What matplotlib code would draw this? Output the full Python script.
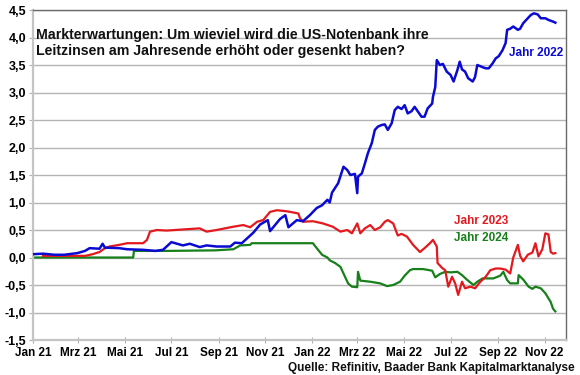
import matplotlib
matplotlib.use("Agg")
import matplotlib.pyplot as plt
import pandas as pd

# ---- data ----
dates_2022 = ["2021-01-01","2021-01-14","2021-01-29","2021-02-11","2021-02-28","2021-03-10","2021-03-16","2021-03-29",
    "2021-04-02","2021-04-05","2021-04-24","2021-05-04","2021-05-25","2021-06-10","2021-06-20","2021-07-01","2021-07-16",
    "2021-07-25","2021-08-07","2021-08-16","2021-08-29","2021-09-16","2021-09-22","2021-10-01","2021-10-16","2021-10-25",
    "2021-11-04","2021-11-07","2021-11-20","2021-11-27","2021-12-01","2021-12-12","2021-12-20","2021-12-29","2022-01-07",
    "2022-01-14","2022-01-21","2022-01-24","2022-01-27","2022-02-04","2022-02-11","2022-02-16","2022-02-20","2022-02-26",
    "2022-03-01","2022-03-02","2022-03-07","2022-03-11","2022-03-15","2022-03-20","2022-03-24","2022-03-28","2022-04-02",
    "2022-04-06","2022-04-10","2022-04-15","2022-04-19","2022-04-23","2022-04-28","2022-05-02","2022-05-06","2022-05-11",
    "2022-05-15","2022-05-19","2022-05-24","2022-05-28","2022-06-01","2022-06-07","2022-06-08","2022-06-11","2022-06-13",
    "2022-06-17","2022-06-21","2022-06-26","2022-07-01","2022-07-05","2022-07-10","2022-07-13","2022-07-16","2022-07-20",
    "2022-07-24","2022-07-30","2022-08-02","2022-08-05","2022-08-12","2022-08-16","2022-08-20","2022-08-25","2022-08-29",
    "2022-09-02","2022-09-07","2022-09-11","2022-09-13","2022-09-17","2022-09-21","2022-09-27","2022-09-30","2022-10-04",
    "2022-10-10","2022-10-14","2022-10-18","2022-10-23","2022-10-27","2022-11-02","2022-11-06","2022-11-12","2022-11-15"]
values_2022 = [0.06,0.07,0.05,0.05,0.08,0.12,0.17,0.16,
    0.25,0.18,0.17,0.15,0.14,0.12,0.14,0.28,0.22,
    0.25,0.19,0.22,0.20,0.20,0.27,0.26,0.45,0.60,
    0.68,0.48,0.70,0.77,0.55,0.68,0.66,0.77,0.90,
    0.95,1.05,1.00,1.18,1.35,1.65,1.59,1.50,1.52,
    1.17,1.47,1.53,1.71,1.90,2.08,2.32,2.38,2.41,
    2.42,2.32,2.44,2.68,2.74,2.70,2.77,2.62,2.66,
    2.74,2.66,2.56,2.56,2.71,2.80,2.92,3.10,3.59,
    3.50,3.52,3.38,3.32,3.20,3.41,3.56,3.42,3.38,
    3.26,3.20,3.28,3.50,3.46,3.44,3.44,3.53,3.62,
    3.66,3.77,3.90,4.14,4.16,4.20,4.14,4.16,4.26,
    4.35,4.41,4.44,4.42,4.35,4.35,4.32,4.29,4.27]

dates_2023 = ["2021-01-14","2021-02-11","2021-03-10","2021-03-20","2021-03-29","2021-04-05","2021-04-11","2021-04-24",
    "2021-05-04","2021-05-25","2021-05-30","2021-06-03","2021-06-12","2021-06-25","2021-07-16","2021-08-07","2021-08-16",
    "2021-08-29","2021-09-20","2021-10-03","2021-10-12","2021-10-21","2021-10-29","2021-11-07","2021-11-16","2021-11-29",
    "2021-12-07","2021-12-14","2021-12-16","2021-12-20","2022-01-02","2022-01-15","2022-01-28","2022-02-07","2022-02-16",
    "2022-02-22","2022-03-01","2022-03-05","2022-03-11","2022-03-18","2022-03-24","2022-03-31","2022-04-06","2022-04-10",
    "2022-04-17","2022-04-23","2022-04-28","2022-05-05","2022-05-13","2022-05-22","2022-05-28","2022-06-04","2022-06-08",
    "2022-06-13","2022-06-14","2022-06-20","2022-06-24","2022-06-28","2022-07-03","2022-07-07","2022-07-11","2022-07-16",
    "2022-07-20","2022-07-27","2022-08-02","2022-08-09","2022-08-16","2022-08-22","2022-08-29","2022-09-04","2022-09-11",
    "2022-09-17","2022-09-21","2022-09-27","2022-09-30","2022-10-04","2022-10-10","2022-10-16","2022-10-20","2022-10-24",
    "2022-10-29","2022-11-02","2022-11-06","2022-11-09","2022-11-12","2022-11-15"]
values_2023 = [0.03,0.03,0.03,0.06,0.10,0.17,0.20,0.23,
    0.26,0.26,0.32,0.47,0.50,0.49,0.51,0.53,0.47,
    0.50,0.56,0.59,0.55,0.65,0.68,0.83,0.86,0.84,
    0.82,0.80,0.72,0.65,0.66,0.62,0.56,0.47,0.50,
    0.44,0.62,0.44,0.53,0.59,0.50,0.55,0.65,0.68,
    0.62,0.40,0.43,0.38,0.23,0.10,0.17,0.26,0.32,
    0.20,-0.10,-0.19,-0.23,-0.53,-0.35,-0.47,-0.68,-0.44,
    -0.56,-0.53,-0.56,-0.44,-0.35,-0.23,-0.20,-0.20,-0.22,
    -0.29,0.00,0.23,0.03,-0.07,0.05,0.09,0.26,0.02,
    0.15,0.44,0.42,0.10,0.07,0.08]

dates_2024 = ["2021-01-01","2021-05-12","2021-05-13","2021-06-25","2021-08-27","2021-09-20","2021-09-29","2021-10-12",
    "2021-10-14","2022-01-02","2022-01-07","2022-01-14","2022-01-21","2022-01-24","2022-01-31","2022-02-07","2022-02-13",
    "2022-02-17","2022-02-22","2022-03-01","2022-03-02","2022-03-05","2022-03-18","2022-03-31","2022-04-09","2022-04-17",
    "2022-04-26","2022-05-02","2022-05-09","2022-05-13","2022-05-26","2022-06-07","2022-06-11","2022-06-17","2022-06-24",
    "2022-07-01","2022-07-10","2022-07-16","2022-07-23","2022-07-31","2022-08-05","2022-08-12","2022-08-26","2022-09-04",
    "2022-09-08","2022-09-13","2022-09-17","2022-09-27","2022-09-28","2022-10-04","2022-10-11","2022-10-16","2022-10-20",
    "2022-10-27","2022-11-02","2022-11-09","2022-11-12","2022-11-15"]
values_2024 = [0.00,0.00,0.12,0.12,0.13,0.15,0.22,0.23,
    0.26,0.26,0.17,0.05,0.00,-0.05,-0.10,-0.17,-0.35,
    -0.47,-0.53,-0.54,-0.26,-0.42,-0.44,-0.47,-0.52,-0.50,
    -0.44,-0.33,-0.23,-0.21,-0.21,-0.24,-0.36,-0.30,-0.26,
    -0.27,-0.26,-0.32,-0.41,-0.50,-0.44,-0.38,-0.38,-0.33,
    -0.26,-0.41,-0.47,-0.47,-0.32,-0.40,-0.53,-0.57,-0.53,
    -0.56,-0.65,-0.81,-0.93,-0.98]

tick_dates = ["2021-01-01","2021-03-01","2021-05-01","2021-07-01","2021-09-01","2021-11-01",
              "2022-01-01","2022-03-01","2022-05-01","2022-07-01","2022-09-01","2022-11-01"]
tick_labels = ["Jan 21","Mrz 21","Mai 21","Jul 21","Sep 21","Nov 21",
               "Jan 22","Mrz 22","Mai 22","Jul 22","Sep 22","Nov 22"]
y_ticks = [-1.5,-1.0,-0.5,0.0,0.5,1.0,1.5,2.0,2.5,3.0,3.5,4.0,4.5]

title = "Markterwartungen: Um wieviel wird die US-Notenbank ihre\nLeitzinsen am Jahresende erhöht oder gesenkt haben?"
source = "Quelle: Refinitiv, Baader Bank Kapitalmarktanalyse"

BLUE = "#0a0ad2"
RED = "#e4191e"
GREEN = "#17801a"

plt.rcParams['font.family'] = ['Liberation Sans', 'DejaVu Sans']

fig = plt.figure(figsize=(5.8, 3.75), dpi=100)
ax = fig.add_axes([0.0569, 0.0933, 0.919, 0.88])

ax.plot(pd.to_datetime(dates_2022), values_2022, color=BLUE, lw=1.8, zorder=4)
ax.plot(pd.to_datetime(dates_2023), values_2023, color=RED, lw=1.6, zorder=3)
ax.plot(pd.to_datetime(dates_2024), values_2024, color=GREEN, lw=1.6, zorder=2)

ax.set_ylim(-1.5, 4.5)
ax.set_xlim(pd.Timestamp("2021-01-01"), pd.Timestamp("2022-11-29"))
ax.set_yticks(y_ticks)
ax.set_yticklabels([f"{v:.1f}".replace(".", ",") for v in y_ticks], fontsize=9, fontweight='bold')
ax.set_xticks(pd.to_datetime(tick_dates))
ax.set_xticklabels(tick_labels, fontsize=8.5, fontweight='bold')
ax.tick_params(axis='both', length=3, width=0.8, color="#b0b0b0", pad=2)
ax.tick_params(axis='x', direction='inout', length=4, pad=3)

ax.grid(axis='y', color="#b4b4b4", lw=1.0, zorder=0)
ax.set_axisbelow(True)
for s in ['left', 'bottom']:
    ax.spines[s].set_color("#c4c4c4")
    ax.spines[s].set_linewidth(1.6)
for s in ['top', 'right']:
    ax.spines[s].set_color("#6a6a6a")
    ax.spines[s].set_linewidth(1.0)

ax.text(0.006, 0.947, title, transform=ax.transAxes, fontsize=10.2, fontweight='bold',
        color="#111111", va='top', ha='left', linespacing=1.25, zorder=5)
ax.text(pd.Timestamp("2022-09-16"), 3.72, "Jahr 2022", color=BLUE, fontsize=8.5, fontweight='bold',
        ha='left', va='center')
ax.text(pd.Timestamp("2022-07-05"), 0.66, "Jahr 2023", color=RED, fontsize=8.5, fontweight='bold',
        ha='left', va='center')
ax.text(pd.Timestamp("2022-07-05"), 0.36, "Jahr 2024", color=GREEN, fontsize=8.5, fontweight='bold',
        ha='left', va='center')
fig.text(0.99, 0.002, source, fontsize=8.5, fontweight='bold', color="#111111", ha='right', va='bottom')

fig.savefig("out.png", dpi=100)
